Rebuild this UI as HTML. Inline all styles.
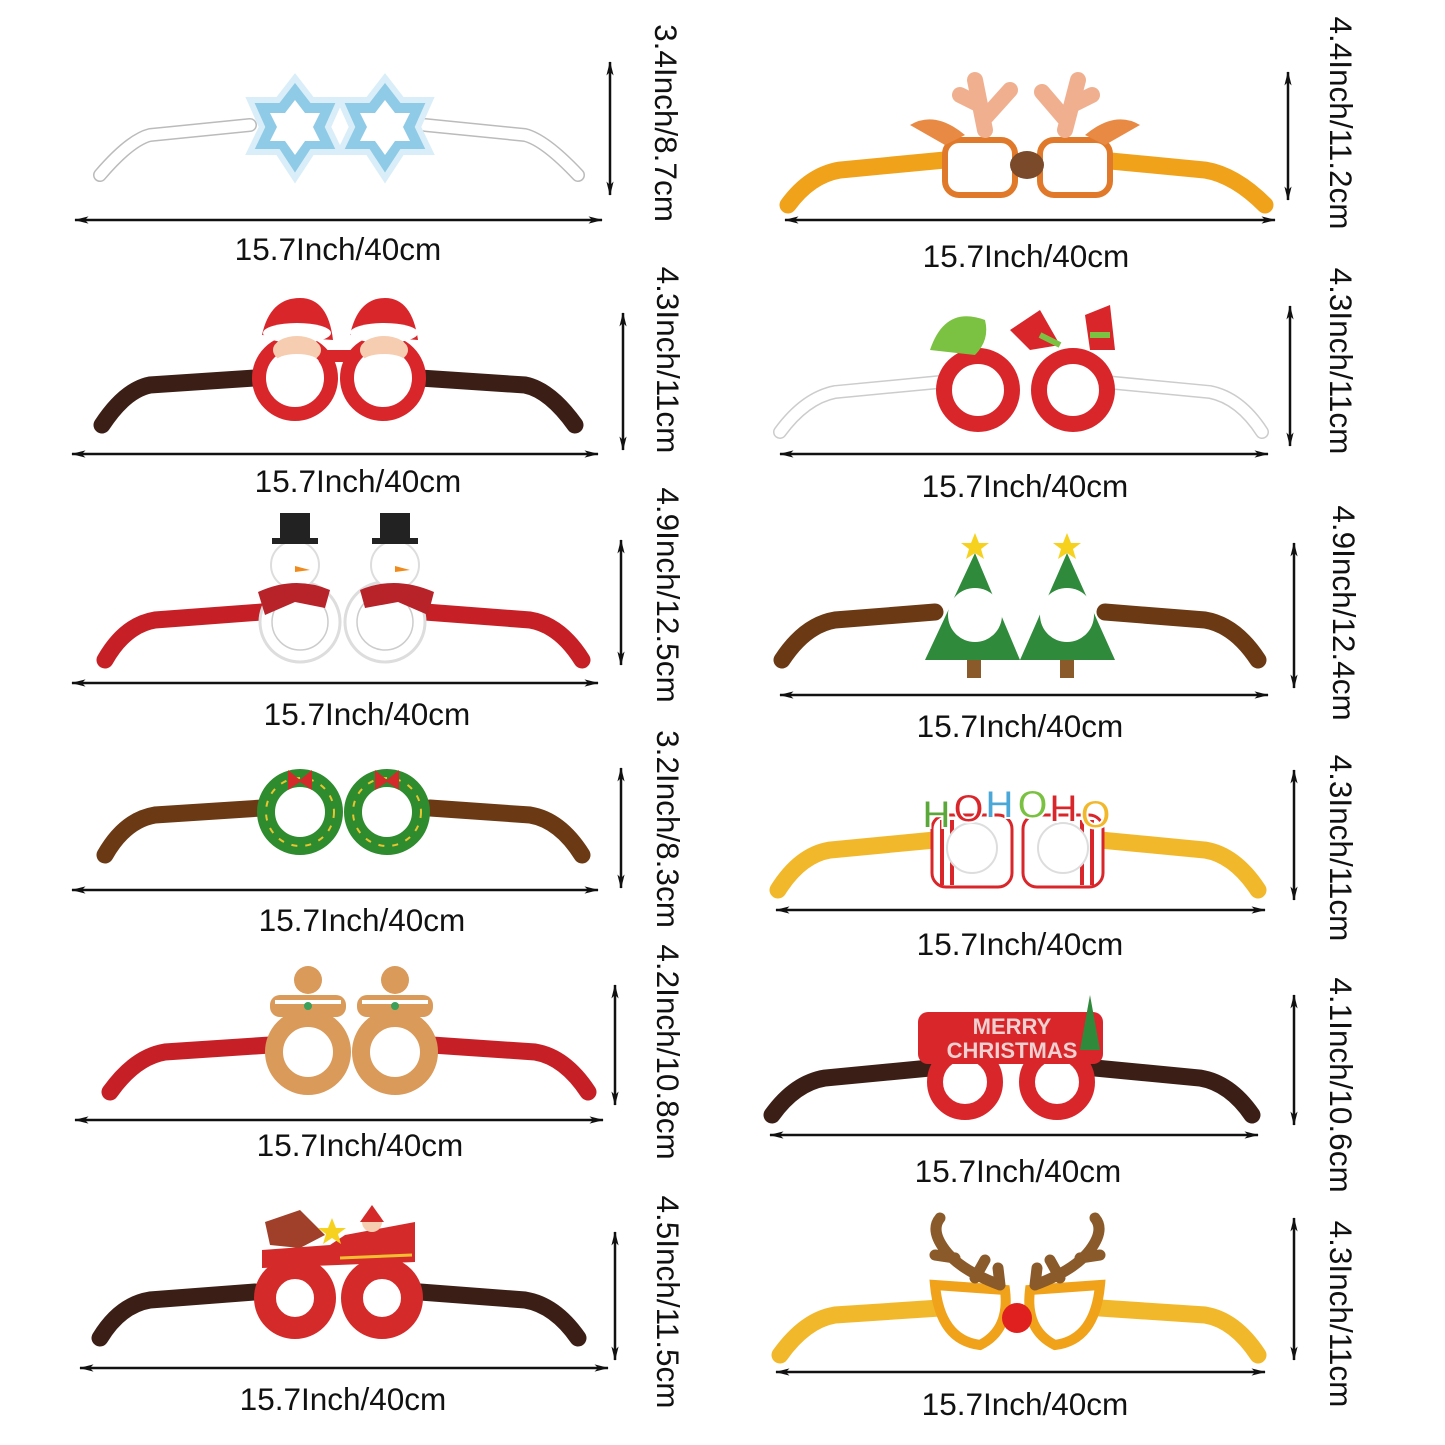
<!DOCTYPE html>
<html><head><meta charset="utf-8"><style>
html,body{margin:0;padding:0;background:#fff}
svg{display:block}
.lab{font-family:"Liberation Sans",sans-serif;font-size:31.5px;fill:#111;text-anchor:middle}
.arr{stroke:#111;stroke-width:2.5;fill:none}
</style></head><body>
<svg width="1445" height="1445" viewBox="0 0 1445 1445" xmlns="http://www.w3.org/2000/svg">
<defs>
<marker id="ah" viewBox="0 0 16 10" refX="15" refY="5" markerWidth="16" markerHeight="9" orient="auto-start-reverse" markerUnits="userSpaceOnUse"><path d="M0,1 L16,5 L0,9 L4,5 z" fill="#111"/></marker>
</defs>

<g class="arr">
<line x1="75" y1="220" x2="602" y2="220" marker-start="url(#ah)" marker-end="url(#ah)"/>
<line x1="72" y1="454" x2="598" y2="454" marker-start="url(#ah)" marker-end="url(#ah)"/>
<line x1="72" y1="683" x2="598" y2="683" marker-start="url(#ah)" marker-end="url(#ah)"/>
<line x1="72" y1="890" x2="598" y2="890" marker-start="url(#ah)" marker-end="url(#ah)"/>
<line x1="75" y1="1120" x2="603" y2="1120" marker-start="url(#ah)" marker-end="url(#ah)"/>
<line x1="80" y1="1368" x2="608" y2="1368" marker-start="url(#ah)" marker-end="url(#ah)"/>
<line x1="785" y1="220" x2="1275" y2="220" marker-start="url(#ah)" marker-end="url(#ah)"/>
<line x1="780" y1="454" x2="1268" y2="454" marker-start="url(#ah)" marker-end="url(#ah)"/>
<line x1="780" y1="695" x2="1268" y2="695" marker-start="url(#ah)" marker-end="url(#ah)"/>
<line x1="776" y1="910" x2="1265" y2="910" marker-start="url(#ah)" marker-end="url(#ah)"/>
<line x1="770" y1="1135" x2="1258" y2="1135" marker-start="url(#ah)" marker-end="url(#ah)"/>
<line x1="776" y1="1372" x2="1265" y2="1372" marker-start="url(#ah)" marker-end="url(#ah)"/>
<line x1="610" y1="62" x2="610" y2="195" marker-start="url(#ah)" marker-end="url(#ah)"/>
<line x1="623" y1="313" x2="623" y2="450" marker-start="url(#ah)" marker-end="url(#ah)"/>
<line x1="621" y1="540" x2="621" y2="665" marker-start="url(#ah)" marker-end="url(#ah)"/>
<line x1="621" y1="768" x2="621" y2="888" marker-start="url(#ah)" marker-end="url(#ah)"/>
<line x1="615" y1="985" x2="615" y2="1105" marker-start="url(#ah)" marker-end="url(#ah)"/>
<line x1="615" y1="1232" x2="615" y2="1360" marker-start="url(#ah)" marker-end="url(#ah)"/>
<line x1="1288" y1="72" x2="1288" y2="200" marker-start="url(#ah)" marker-end="url(#ah)"/>
<line x1="1290" y1="306" x2="1290" y2="446" marker-start="url(#ah)" marker-end="url(#ah)"/>
<line x1="1294" y1="543" x2="1294" y2="688" marker-start="url(#ah)" marker-end="url(#ah)"/>
<line x1="1294" y1="770" x2="1294" y2="900" marker-start="url(#ah)" marker-end="url(#ah)"/>
<line x1="1294" y1="995" x2="1294" y2="1125" marker-start="url(#ah)" marker-end="url(#ah)"/>
<line x1="1294" y1="1218" x2="1294" y2="1360" marker-start="url(#ah)" marker-end="url(#ah)"/>
</g>

<text class="lab" x="338" y="260">15.7Inch/40cm</text>
<text class="lab" x="358" y="492">15.7Inch/40cm</text>
<text class="lab" x="367" y="725">15.7Inch/40cm</text>
<text class="lab" x="362" y="931">15.7Inch/40cm</text>
<text class="lab" x="360" y="1156">15.7Inch/40cm</text>
<text class="lab" x="343" y="1410">15.7Inch/40cm</text>
<text class="lab" x="1026" y="267">15.7Inch/40cm</text>
<text class="lab" x="1025" y="497">15.7Inch/40cm</text>
<text class="lab" x="1020" y="737">15.7Inch/40cm</text>
<text class="lab" x="1020" y="955">15.7Inch/40cm</text>
<text class="lab" x="1018" y="1182">15.7Inch/40cm</text>
<text class="lab" x="1025" y="1415">15.7Inch/40cm</text>

<text class="lab" transform="translate(655,123) rotate(90)">3.4Inch/8.7cm</text>
<text class="lab" transform="translate(657,360) rotate(90)">4.3Inch/11cm</text>
<text class="lab" transform="translate(657,595) rotate(90)">4.9Inch/12.5cm</text>
<text class="lab" transform="translate(657,829) rotate(90)">3.2Inch/8.3cm</text>
<text class="lab" transform="translate(657,1052) rotate(90)">4.2Inch/10.8cm</text>
<text class="lab" transform="translate(657,1302) rotate(90)">4.5Inch/11.5cm</text>
<text class="lab" transform="translate(1330,123) rotate(90)">4.4Inch/11.2cm</text>
<text class="lab" transform="translate(1330,361) rotate(90)">4.3Inch/11cm</text>
<text class="lab" transform="translate(1333,613) rotate(90)">4.9Inch/12.4cm</text>
<text class="lab" transform="translate(1330,848) rotate(90)">4.3Inch/11cm</text>
<text class="lab" transform="translate(1330,1085) rotate(90)">4.1Inch/10.6cm</text>
<text class="lab" transform="translate(1330,1314) rotate(90)">4.3Inch/11cm</text>

<!-- LEFT 1 -->
<g fill="none" stroke-linecap="round" stroke-linejoin="round">
<path d="M250,125 L150,135 Q130,140 100,175 M425,125 L525,135 Q545,140 578,175" stroke="#bbb" stroke-width="14"/>
<path d="M250,125 L150,135 Q130,140 100,175 M425,125 L525,135 Q545,140 578,175" stroke="#fff" stroke-width="11"/>
</g>
<polygon points="295,78 312,100 340,100 328,127 340,152 312,152 295,178 278,152 250,152 262,127 250,100 278,100" fill="#8fcbe6" stroke="#d9eef8" stroke-width="6"/>
<polygon points="385,78 402,100 430,100 418,127 430,152 402,152 385,178 368,152 340,152 352,127 340,100 368,100" fill="#8fcbe6" stroke="#d9eef8" stroke-width="6"/>
<polygon points="295,100 305,113 320,113 313,127 320,141 305,141 295,155 285,141 270,141 277,127 270,113 285,113" fill="#fff"/>
<polygon points="385,100 395,113 410,113 403,127 410,141 395,141 385,155 375,141 360,141 367,127 360,113 375,113" fill="#fff"/>

<!-- LEFT 2 -->
<path d="M255,378 L150,385 Q125,390 102,425 M420,378 L525,385 Q550,390 575,425" stroke="#3b1f17" stroke-width="17" fill="none" stroke-linecap="round"/>
<g stroke="#d9262b" stroke-width="14" fill="#fff"><circle cx="295" cy="378" r="36"/><circle cx="383" cy="378" r="36"/></g>
<rect x="325" y="350" width="28" height="12" fill="#d9262b"/>
<path d="M262,335 Q270,298 300,298 Q328,298 333,340 Z" fill="#d9262b"/>
<path d="M350,335 Q358,298 385,298 Q412,298 418,340 Z" fill="#d9262b"/>
<ellipse cx="297" cy="333" rx="34" ry="10" fill="#fff"/><ellipse cx="384" cy="333" rx="34" ry="10" fill="#fff"/>
<ellipse cx="297" cy="350" rx="24" ry="14" fill="#f6cdb0"/><ellipse cx="384" cy="350" rx="24" ry="14" fill="#f6cdb0"/>
<ellipse cx="297" cy="362" rx="22" ry="8" fill="#fff"/><ellipse cx="384" cy="362" rx="22" ry="8" fill="#fff"/>

<!-- LEFT 3 -->
<path d="M262,612 L155,620 Q125,625 105,660 M425,612 L530,620 Q560,625 582,660" stroke="#c62026" stroke-width="17" fill="none" stroke-linecap="round"/>
<g stroke="#ddd" stroke-width="3" fill="#fff"><circle cx="300" cy="622" r="40"/><circle cx="385" cy="622" r="40"/></g>
<g fill="#fff" stroke="#ccc" stroke-width="1.5"><circle cx="300" cy="622" r="28"/><circle cx="385" cy="622" r="28"/></g>
<circle cx="295" cy="565" r="24" fill="#fff" stroke="#ddd" stroke-width="2"/><circle cx="395" cy="565" r="24" fill="#fff" stroke="#ddd" stroke-width="2"/>
<rect x="272" y="538" width="46" height="6" fill="#222"/><rect x="280" y="513" width="30" height="28" fill="#222"/>
<rect x="372" y="538" width="46" height="6" fill="#222"/><rect x="380" y="513" width="30" height="28" fill="#222"/>
<path d="M258,592 Q295,575 330,590 L325,608 L295,602 L265,615 Z" fill="#b8232a"/>
<path d="M360,590 Q395,575 434,592 L428,615 L398,602 L365,608 Z" fill="#b8232a"/>
<polygon points="295,566 310,570 295,572" fill="#f08a1c"/><polygon points="395,566 410,570 395,572" fill="#f08a1c"/>

<!-- LEFT 4 -->
<path d="M262,808 L155,815 Q125,820 105,855 M430,808 L530,815 Q560,820 582,855" stroke="#6b3a14" stroke-width="17" fill="none" stroke-linecap="round"/>
<g stroke="#2e8b2e" stroke-width="18" fill="none"><circle cx="300" cy="812" r="34"/><circle cx="387" cy="812" r="34"/></g>
<g stroke="#e8c531" stroke-width="2" fill="none" stroke-dasharray="6 8"><circle cx="300" cy="812" r="34"/><circle cx="387" cy="812" r="34"/></g>
<g fill="#d42a2a"><path d="M288,770 L300,780 L312,770 L312,790 L300,782 L288,790Z"/><path d="M375,770 L387,780 L399,770 L399,790 L387,782 L375,790Z"/></g>

<!-- LEFT 5 -->
<path d="M270,1045 L165,1052 Q135,1057 110,1092 M432,1045 L535,1052 Q565,1057 588,1092" stroke="#c62026" stroke-width="17" fill="none" stroke-linecap="round"/>
<g stroke="#d99a5a" stroke-width="18" fill="#fff"><circle cx="308" cy="1052" r="34"/><circle cx="395" cy="1052" r="34"/></g>
<g fill="#d99a5a">
<circle cx="308" cy="980" r="14"/><rect x="270" y="995" width="76" height="22" rx="10"/>
<circle cx="395" cy="980" r="14"/><rect x="357" y="995" width="76" height="22" rx="10"/>
</g>
<g fill="#fff"><rect x="275" y="1000" width="66" height="4"/><rect x="362" y="1000" width="66" height="4"/></g>
<g fill="#3aa05a"><circle cx="308" cy="1006" r="4"/><circle cx="395" cy="1006" r="4"/></g>

<!-- LEFT 6 -->
<path d="M255,1292 L150,1300 Q120,1305 100,1338 M420,1292 L525,1300 Q555,1305 578,1338" stroke="#3b1f17" stroke-width="17" fill="none" stroke-linecap="round"/>
<g stroke="#d42a2a" stroke-width="22" fill="#fff"><circle cx="295" cy="1298" r="30"/><circle cx="382" cy="1298" r="30"/></g>
<path d="M262,1250 L330,1245 L345,1235 L415,1222 L415,1262 L262,1268 Z" fill="#d42a2a"/>
<path d="M265,1222 L300,1210 L325,1235 L300,1248 L270,1245Z" fill="#a0402a"/>
<circle cx="372" cy="1222" r="10" fill="#f6cdb0"/><path d="M360,1222 L372,1205 L384,1222Z" fill="#d42a2a"/>
<polygon points="332,1218 336,1228 346,1228 338,1234 341,1244 332,1238 323,1244 326,1234 318,1228 328,1228" fill="#f6d21f"/>
<path d="M340,1258 L412,1255" stroke="#f0c030" stroke-width="3"/>

<!-- RIGHT 1 -->
<path d="M945,160 L840,170 Q810,175 788,205 M1100,160 L1205,170 Q1235,175 1265,205" stroke="#f0a21a" stroke-width="17" fill="none" stroke-linecap="round"/>
<g stroke="#e07a2a" stroke-width="6" fill="#fff"><rect x="945" y="140" width="70" height="55" rx="14"/><rect x="1040" y="140" width="70" height="55" rx="14"/></g>
<path d="M910,125 Q935,110 965,135 L945,145 Z" fill="#e88a44"/><path d="M1140,125 Q1115,110 1085,135 L1105,145Z" fill="#e88a44"/>
<g stroke="#f0b090" stroke-width="16" fill="none" stroke-linecap="round">
<path d="M985,130 L975,80 M980,105 L960,95 M983,120 L1010,90"/>
<path d="M1065,130 L1078,80 M1072,105 L1092,95 M1066,120 L1042,92"/>
</g>
<ellipse cx="1027" cy="165" rx="17" ry="14" fill="#7a4a2a"/>

<!-- RIGHT 2 -->
<g fill="none" stroke-linecap="round">
<path d="M940,382 L835,392 Q805,398 780,432 M1105,382 L1210,392 Q1240,398 1262,432" stroke="#ccc" stroke-width="14"/>
<path d="M940,382 L835,392 Q805,398 780,432 M1105,382 L1210,392 Q1240,398 1262,432" stroke="#fff" stroke-width="11"/>
</g>
<g stroke="#d9262b" stroke-width="16" fill="#fff"><circle cx="978" cy="390" r="34"/><circle cx="1073" cy="390" r="34"/></g>
<path d="M930,350 Q945,305 985,320 Q990,340 975,355 Z" fill="#7cc242"/>
<path d="M1010,330 L1040,310 L1060,345 L1030,350Z M1085,315 L1110,305 L1115,350 L1090,350Z" fill="#d9262b"/>
<path d="M1040,335 L1060,345 M1090,335 L1110,335" stroke="#7cc242" stroke-width="6"/>

<!-- RIGHT 3 -->
<path d="M935,612 L835,620 Q805,625 782,660 M1105,612 L1205,620 Q1235,625 1258,660" stroke="#6b3a14" stroke-width="17" fill="none" stroke-linecap="round"/>
<g fill="#2f8a3c"><path d="M975,553 L1020,660 L925,660 Z"/><path d="M1067,553 L1115,660 L1020,660 Z"/></g>
<rect x="967" y="660" width="14" height="18" fill="#8a5a2a"/><rect x="1060" y="660" width="14" height="18" fill="#8a5a2a"/>
<g fill="#fff"><circle cx="975" cy="615" r="27"/><circle cx="1067" cy="615" r="27"/></g>
<g fill="#f6d21f"><polygon points="975,533 979,543 989,543 981,549 984,559 975,553 966,559 969,549 961,543 971,543"/><polygon points="1067,533 1071,543 1081,543 1073,549 1076,559 1067,553 1058,559 1061,549 1053,543 1063,543"/></g>

<!-- RIGHT 4 -->
<path d="M935,840 L830,850 Q800,855 778,890 M1100,840 L1205,850 Q1235,855 1258,890" stroke="#f2b82b" stroke-width="17" fill="none" stroke-linecap="round"/>
<g fill="#fff" stroke="#d9262b" stroke-width="3"><rect x="932" y="815" width="80" height="72" rx="14"/><rect x="1023" y="815" width="80" height="72" rx="14"/></g>
<g stroke="#d9262b" stroke-width="4"><path d="M942,820 V885 M952,820 V885 M1092,820 V885 M1082,820 V885"/></g>
<g fill="#fff" stroke="#ddd" stroke-width="2"><circle cx="972" cy="848" r="25"/><circle cx="1063" cy="848" r="25"/></g>
<g font-family="Liberation Sans,sans-serif" font-size="40" font-weight="bold" stroke="#fff" stroke-width="2">
<text x="922" y="828" fill="#5aa83a">H</text><text x="953" y="822" fill="#d9262b">O</text><text x="985" y="818" fill="#4aa8d8">H</text><text x="1017" y="818" fill="#7ac142">O</text><text x="1049" y="822" fill="#d9262b">H</text><text x="1080" y="828" fill="#f2b82b">O</text>
</g>

<!-- RIGHT 5 -->
<path d="M930,1068 L825,1078 Q795,1083 772,1115 M1095,1068 L1200,1078 Q1230,1083 1252,1115" stroke="#3b1f17" stroke-width="17" fill="none" stroke-linecap="round"/>
<g stroke="#d9262b" stroke-width="16" fill="#fff"><circle cx="965" cy="1082" r="30"/><circle cx="1057" cy="1082" r="30"/></g>
<rect x="918" y="1012" width="185" height="52" rx="10" fill="#d9262b"/>
<path d="M1080,1050 L1090,995 L1100,1050Z" fill="#2f8a3c"/>
<g font-family="Liberation Sans,sans-serif" font-weight="bold" fill="#f0d0d0" text-anchor="middle">
<text x="1012" y="1034" font-size="22">MERRY</text><text x="1012" y="1058" font-size="22">CHRISTMAS</text>
</g>

<!-- RIGHT 6 -->
<path d="M940,1308 L835,1315 Q805,1320 780,1355 M1100,1308 L1205,1315 Q1235,1320 1258,1355" stroke="#f2b82b" stroke-width="17" fill="none" stroke-linecap="round"/>
<g stroke="#f0a21a" stroke-width="10" fill="#fff"><path d="M935,1285 L1005,1290 Q1010,1330 980,1345 Q940,1340 935,1285Z"/><path d="M1100,1285 L1030,1290 Q1025,1330 1055,1345 Q1095,1340 1100,1285Z"/></g>
<g stroke="#8a5a2a" stroke-width="11" fill="none" stroke-linecap="round">
<path d="M1000,1285 Q960,1270 945,1250 Q930,1230 940,1218 M955,1258 L935,1255 M975,1278 L985,1260 M1000,1285 L998,1268"/>
<path d="M1035,1285 Q1075,1270 1090,1250 Q1105,1230 1095,1218 M1080,1258 L1100,1255 M1060,1278 L1050,1260 M1035,1285 L1037,1268"/>
</g>
<circle cx="1017" cy="1318" r="15" fill="#e0201f"/>
</svg>
</body></html>
